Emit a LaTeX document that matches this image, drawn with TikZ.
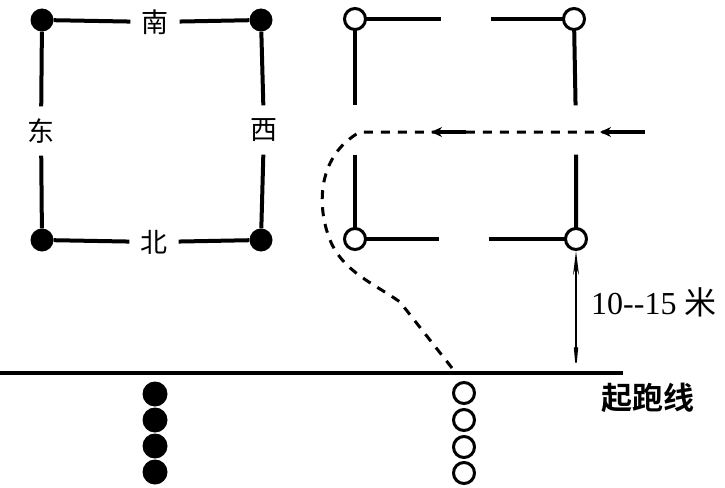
\documentclass[tikz,border=0pt]{standalone}
\usepackage{fontspec}
\setmainfont{Liberation Serif}
\newfontfamily\cjk{Noto Sans CJK SC}
\newfontfamily\cjkb{Noto Sans CJK SC Bold}
\usetikzlibrary{arrows.meta}
\begin{document}
\begin{tikzpicture}[x=1pt,y=-1pt,
  fdot/.style={circle,fill=black,inner sep=0pt,minimum size=23pt},
  odot/.style={circle,draw=black,line width=3pt,fill=white,inner sep=0pt,minimum size=21pt},
  bfdot/.style={circle,fill=black,inner sep=0pt,minimum size=25pt},
  bodot/.style={circle,draw=black,line width=3pt,fill=white,inner sep=0pt,minimum size=21pt},
  ln/.style={line width=4pt},
  lbl/.style={font=\cjk\fontsize{27}{27}\selectfont,inner sep=0pt,minimum size=49pt},
  gapn/.style={inner sep=0pt,minimum size=49pt},
  run/.style={line width=3pt,dash pattern=on 9pt off 8pt},
  dirmark/.style={line width=4.5pt,-{Stealth[length=11pt,width=10pt]}},
  dim/.style={line width=1.6pt,{Stealth[length=24pt,width=6pt]}-{Stealth[length=32pt,width=6pt]}}]
\useasboundingbox (0,0) rectangle (725,487);
% left square (filled)
\node[fdot] (a1) at (42,20) {};
\node[fdot] (a2) at (261,20) {};
\node[fdot] (a3) at (42,240) {};
\node[fdot] (a4) at (261,240) {};
\node[lbl] (nan) at (155,22) {南};
\node[lbl] (dong) at (41,131) {东};
\node[lbl] (xi) at (264,130) {西};
\node[lbl] (bei) at (154,242) {北};
\draw[ln] (a1) -- (nan) -- (a2);
\draw[ln] (a1) -- (dong) -- (a3);
\draw[ln] (a2) -- (xi) -- (a4);
\draw[ln] (a3) -- (bei) -- (a4);
% right square (open)
\node[gapn] (gt) at (466,19) {};
\node[gapn] (gl) at (355,130) {};
\node[gapn] (gr) at (576,130) {};
\node[gapn] (gb) at (464,239) {};
\draw[ln] (355,19) -- (gt) -- (574,19);
\draw[ln] (355,19) -- (gl) -- (355,239);
\draw[ln] (574,19) -- (gr) -- (576,239);
\draw[ln] (355,239) -- (gb) -- (576,239);
\node[odot] (b1) at (355,19) {};
\node[odot] (b2) at (574,19) {};
\node[odot] (b3) at (355,239) {};
\node[odot] (b4) at (576,239) {};
% start line
\coordinate (bl) at (0,373);
\coordinate (br) at (623,373);
\draw[line width=4.5pt] (bl) -- (br);
\node[font=\cjkb\fontsize{31}{31}\selectfont,inner sep=0pt] (qpx) at (648,398) {起跑线};
% distance
\coordinate (dend) at (576,371);
\draw[dim] (b4) -- (dend);
\node[anchor=west,inner sep=0pt,font=\fontsize{32}{32}\selectfont] (dist) at (591,302) {10{-}{-}15 {\cjk 米}};
% running path
\coordinate (r0) at (452,368);
\coordinate (r1) at (400,302);
\coordinate (r2) at (330,240);
\coordinate (r3) at (360,132);
\coordinate (r4) at (645,132);
\draw[run] (r0) -- (r1) .. controls (375,284) and (343,272) .. (r2) .. controls (316,205) and (318,155) .. (r3) -- (r4);
\coordinate (m1s) at (466,132);
\coordinate (m1e) at (431,132);
\coordinate (m2s) at (645,132);
\coordinate (m2e) at (600,132);
\draw[dirmark] (m1s) -- (m1e);
\draw[dirmark] (m2s) -- (m2e);
% waiting players
\node[bfdot] (p1) at (155,394) {};
\node[bfdot] (p2) at (155,420) {};
\node[bfdot] (p3) at (155,446) {};
\node[bfdot] (p4) at (155,472) {};
\node[bodot] (q1) at (464,393) {};
\node[bodot] (q2) at (464,420) {};
\node[bodot] (q3) at (464,447) {};
\node[bodot] (q4) at (464,473) {};
\end{tikzpicture}
\end{document}
